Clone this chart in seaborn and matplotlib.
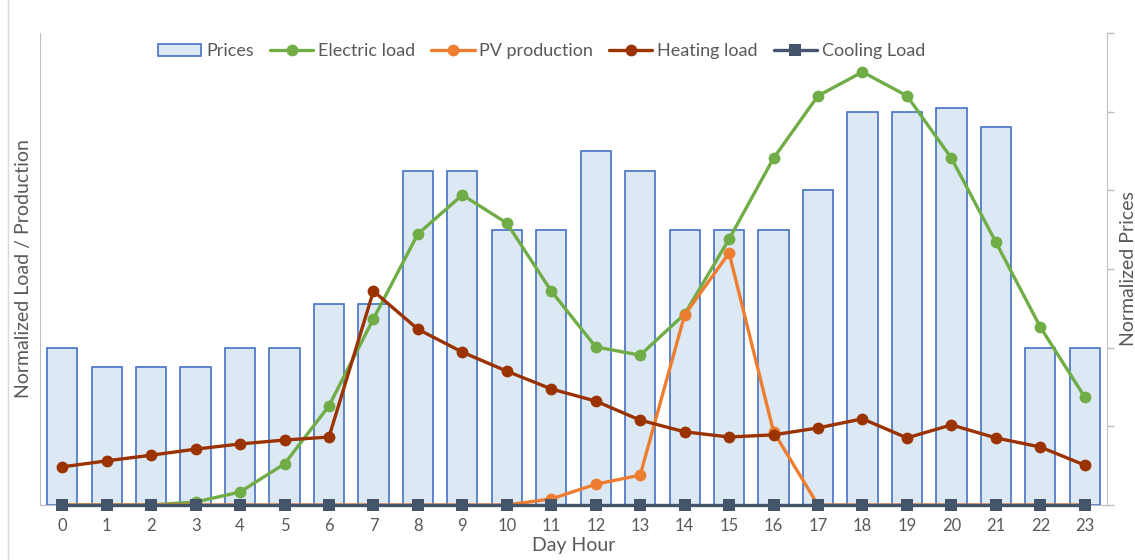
import numpy as np
import pandas as pd
import matplotlib
matplotlib.use("Agg")
import matplotlib.pyplot as plt
from matplotlib.lines import Line2D
from matplotlib.patches import Patch
import seaborn as sns

sns.set_style("white")
plt.rcParams['font.family'] = ['Lato', 'DejaVu Sans']

hours = list(range(24))
prices = [0.40, 0.35, 0.35, 0.35, 0.40, 0.40, 0.51, 0.51, 0.85, 0.85, 0.70, 0.70,
          0.90, 0.85, 0.70, 0.70, 0.70, 0.80, 1.00, 1.00, 1.01, 0.96, 0.40, 0.40]
electric = [0.0, 0.0, 0.0, 0.007, 0.030, 0.095, 0.229, 0.430, 0.626, 0.716, 0.651, 0.494,
            0.365, 0.346, 0.441, 0.614, 0.801, 0.945, 1.0, 0.945, 0.801, 0.607, 0.411, 0.249]
pv = [0, 0, 0, 0, 0, 0, 0, 0, 0, 0, 0.0, 0.014,
      0.048, 0.069, 0.439, 0.582, 0.169, 0.0, 0, 0, 0, 0, 0, 0]
heating = [0.088, 0.102, 0.115, 0.129, 0.141, 0.150, 0.157, 0.494, 0.406, 0.353, 0.309, 0.268,
           0.240, 0.196, 0.169, 0.157, 0.162, 0.178, 0.199, 0.155, 0.185, 0.155, 0.134, 0.092]
cooling = [0] * 24

df = pd.DataFrame({"hour": hours, "prices": prices, "electric": electric,
                   "pv": pv, "heating": heating, "cooling": cooling})

grey = "#BFBFBF"
txt = "#595959"

fig = plt.figure(figsize=(11.35, 5.6), dpi=100)
ax = fig.add_axes([40/1135, 1-505/560, (1107-40)/1135, (505-33)/560])

# prices bars on the right axis (drawn behind)
sns.barplot(data=df, x="hour", y="prices", ax=ax, color="#DDE8F5", width=0.68,
            edgecolor="#4472C4", linewidth=1.2, saturation=1)
ax.set_ylim(0, 1.2)
ax.set_xlim(-0.5, 23.5)

# load lines on the left axis
ax2 = ax.twinx()

ax.yaxis.tick_right()
ax.yaxis.set_label_position("right")
ax.set_yticks(np.arange(0, 1.21, 0.2))
ax.set_yticklabels([])
ax.tick_params(axis="y", left=False, right=True, length=5, width=1, color=grey,
               direction="out", pad=0)
ax.tick_params(axis="x", bottom=False, labelsize=12, labelcolor=txt, pad=6)
ax.set_ylabel("Normalized Prices", fontsize=14, color=txt, labelpad=4)
ax.set_xlabel("Day Hour", fontsize=14, color=txt, labelpad=2)
for s in ["top", "left"]:
    ax.spines[s].set_visible(False)
ax.spines["right"].set_color(grey)
ax.spines["bottom"].set_color(grey)

lw = 2.4
ms = 8.5
sns.lineplot(data=df, x="hour", y="electric", ax=ax2, color="#70AD47", lw=lw,
             marker="o", markersize=ms, markeredgewidth=0)
sns.lineplot(data=df, x="hour", y="pv", ax=ax2, color="#ED7D31", lw=lw,
             marker="o", markersize=ms, markeredgewidth=0)
sns.lineplot(data=df, x="hour", y="heating", ax=ax2, color="#9A3300", lw=lw,
             marker="o", markersize=ms, markeredgewidth=0)
sns.lineplot(data=df, x="hour", y="cooling", ax=ax2, color="#44546A", lw=lw,
             marker="s", markersize=ms, markeredgewidth=0, clip_on=False)
ax2.set_ylim(0, 1.09)
ax2.set_xlim(-0.5, 23.5)
ax2.yaxis.tick_left()
ax2.yaxis.set_label_position("left")
ax2.set_yticks([])
ax2.set_ylabel("Normalized Load / Production", fontsize=14, color=txt, labelpad=6)
for s in ["top", "right", "bottom"]:
    ax2.spines[s].set_visible(False)
ax2.spines["left"].set_color(grey)

# legend
handles = [
    Patch(facecolor="#DDE8F5", edgecolor="#4472C4", linewidth=1.2),
    Line2D([], [], color="#70AD47", lw=lw, marker="o", markersize=ms, markeredgewidth=0),
    Line2D([], [], color="#ED7D31", lw=lw, marker="o", markersize=ms, markeredgewidth=0),
    Line2D([], [], color="#9A3300", lw=lw, marker="o", markersize=ms, markeredgewidth=0),
    Line2D([], [], color="#44546A", lw=lw, marker="s", markersize=ms, markeredgewidth=0),
]
labels = ["Prices", "Electric load", "PV production", "Heating load", "Cooling Load"]
ax2.legend(handles, labels, loc="upper center", bbox_to_anchor=(0.47, 1.005), ncol=5,
           frameon=False, labelcolor=txt, handlelength=2.4, fontsize=13,
           handletextpad=0.25, columnspacing=0.9, borderaxespad=0.3)

fig.add_artist(Line2D([8/1135, 8/1135], [0, 1], color="#D9D9D9", lw=1))

fig.savefig("out.png", dpi=100)
